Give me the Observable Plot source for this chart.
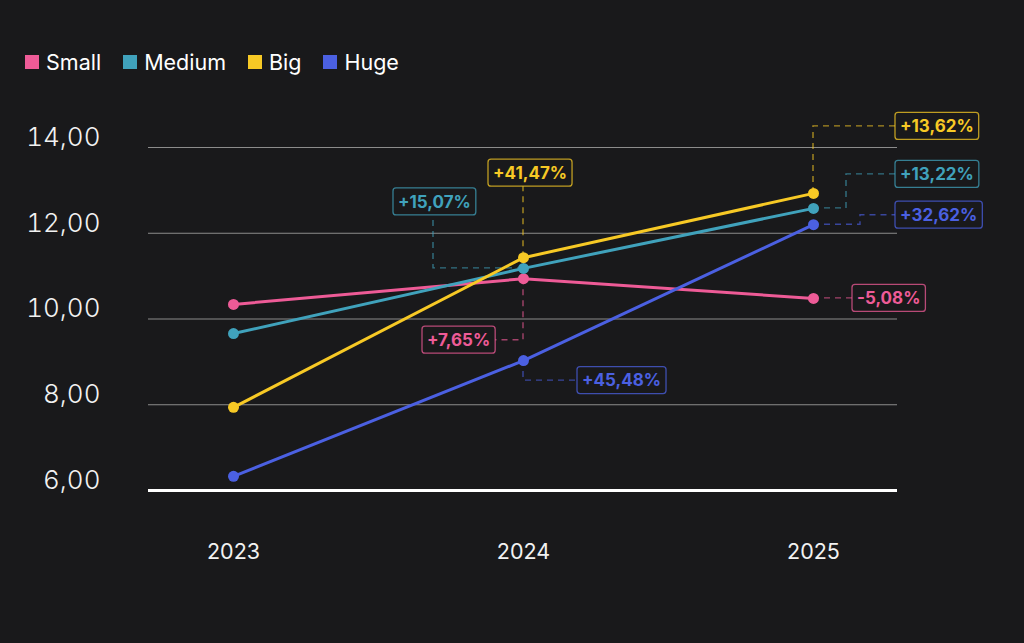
<!DOCTYPE html>
<html>
<head>
<meta charset="utf-8">
<script src="https://cdn.jsdelivr.net/npm/d3@7"></script>
<script src="https://cdn.jsdelivr.net/npm/@observablehq/plot@0.6"></script>
<style>
  html, body { margin: 0; padding: 0; background: #19191b; }
  #wrap { position: relative; width: 1024px; height: 643px; font-family: Inter, "Noto Sans", sans-serif; overflow: hidden; }
  #legend { position: absolute; left: 25px; top: 49px; display: flex; align-items: center; color: #fff; font-size: 21.5px; line-height: 26px; z-index: 2; }
  #legend .item { display: flex; align-items: center; margin-right: 22px; }
  #legend .sw { width: 14px; height: 14px; margin-right: 7px; }
  #chart { position: absolute; left: 0; top: 0; }
</style>
</head>
<body>
<div id="wrap">
  <div id="legend"></div>
  <div id="chart"></div>
</div>
<script>
// ---- data ----
const years = [2023, 2024, 2025];
const seriesNames = ["Small", "Medium", "Big", "Huge"];
const smallValues = [10.34, 10.94, 10.48];
const mediumValues = [9.66, 11.18, 12.58];
const bigValues = [7.94, 11.43, 12.93];
const hugeValues = [6.33, 9.03, 12.20];
const smallChange = [null, "+7,65%", "-5,08%"];
const mediumChange = [null, "+15,07%", "+13,22%"];
const bigChange = [null, "+41,47%", "+13,62%"];
const hugeChange = [null, "+45,48%", "+32,62%"];
const yTicks = [6, 8, 10, 12, 14];
const gridTicks = [8, 10, 12, 14];

// ---- style ----
const colors = ["#ee5b97", "#40a2bc", "#f7c925", "#4b60e2"];
const bg = "#19191b";

const valuesBySeries = [smallValues, mediumValues, bigValues, hugeValues];
const changesBySeries = [smallChange, mediumChange, bigChange, hugeChange];
const rows = [];
seriesNames.forEach((s, i) => years.forEach((yr, j) => rows.push({series: s, year: yr, value: valuesBySeries[i][j]})));

// annotation layout (pixel offsets from the point: box left, box centre y, elbow x)
const annoLayout = [
  {series: "Small",  year: 2024, bx: -101, by: 61.5, ex: 0},
  {series: "Medium", year: 2024, bx: -130, by: -66.5, ex: -90},
  {series: "Big",    year: 2024, bx: -35,  by: -84.5, ex: 0},
  {series: "Huge",   year: 2024, bx: 54,   by: 20,   ex: 0},
  {series: "Big",    year: 2025, bx: 82,   by: -67,  ex: 0},
  {series: "Medium", year: 2025, bx: 82,   by: -34,  ex: 33},
  {series: "Huge",   year: 2025, bx: 82,   by: -9.5, ex: 47},
  {series: "Small",  year: 2025, bx: 39,   by: 0,    ex: 0}
];

// legend
const legend = d3.select("#legend");
seriesNames.forEach((s, i) => {
  const it = legend.append("div").attr("class", "item");
  it.append("div").attr("class", "sw").style("background", colors[i]);
  it.append("span").text(s);
});

function annotations(index, scales) {
  const g = d3.create("svg:g");
  const conn = g.append("g");
  const boxes = g.append("g");
  for (const a of annoLayout) {
    const i = seriesNames.indexOf(a.series);
    const j = years.indexOf(a.year);
    const col = colors[i];
    const px = scales.x(a.year), py = scales.y(valuesBySeries[i][j]);
    const left = px + a.bx, cy = py + a.by, ex = px + a.ex;
    conn.append("path")
      .attr("d", `M${px},${py}H${ex}V${cy}H${left + 10}`)
      .attr("fill", "none").attr("stroke", col).attr("stroke-opacity", 0.65)
      .attr("stroke-width", 1.4).attr("stroke-dasharray", "6,5");
    const b = boxes.append("g").attr("class", "abox");
    b.append("rect").attr("x", left).attr("y", cy - 13.5).attr("width", 80).attr("height", 27)
      .attr("rx", 3).attr("fill", bg).attr("stroke", col).attr("stroke-opacity", 0.75).attr("stroke-width", 1.3);
    b.append("text").attr("x", left + 5).attr("y", cy).attr("dy", "0.36em")
      .attr("text-anchor", "start")
      .attr("fill", col).attr("font-size", 17).attr("font-weight", 700)
      .attr("font-family", "Inter, sans-serif").text(changesBySeries[i][j]);
  }
  return g.node();
}

const chart = Plot.plot({
  width: 1024,
  height: 643,
  marginLeft: 148,
  marginRight: 127,
  marginTop: 147,
  marginBottom: 153,
  style: {background: "transparent", color: "#f2f2f2", fontFamily: "Inter, sans-serif", overflow: "visible"},
  x: {type: "point", domain: years, padding: 0.29},
  y: {domain: [6, 14]},
  color: {domain: seriesNames, range: colors},
  marks: [
    Plot.ruleY(gridTicks, {stroke: "#8c8c8c", strokeWidth: 1.2}),
    Plot.ruleY([6], {stroke: "#ffffff", strokeWidth: 3}),
    Plot.axisY(yTicks, {tickSize: 0, tickPadding: 48, dy: -10, fontSize: 26, fontWeight: 300, tickFormat: d => d.toFixed(2).replace(".", ","), label: null}),
    Plot.axisX(years, {tickSize: 0, tickPadding: 53, fontSize: 21.5, tickFormat: d => String(d), label: null}),
    annotations,
    Plot.line(rows, {x: "year", y: "value", z: "series", stroke: "series", strokeWidth: 3}),
    Plot.dot(rows, {x: "year", y: "value", fill: "series", r: 5.5})
  ]
});
document.getElementById("chart").appendChild(chart);

// size annotation boxes to their text
d3.select(chart).selectAll("g.abox").each(function() {
  const t = d3.select(this).select("text").node();
  const w = t.getComputedTextLength();
  d3.select(this).select("rect").attr("width", w + 10);
});
</script>
</body>
</html>
